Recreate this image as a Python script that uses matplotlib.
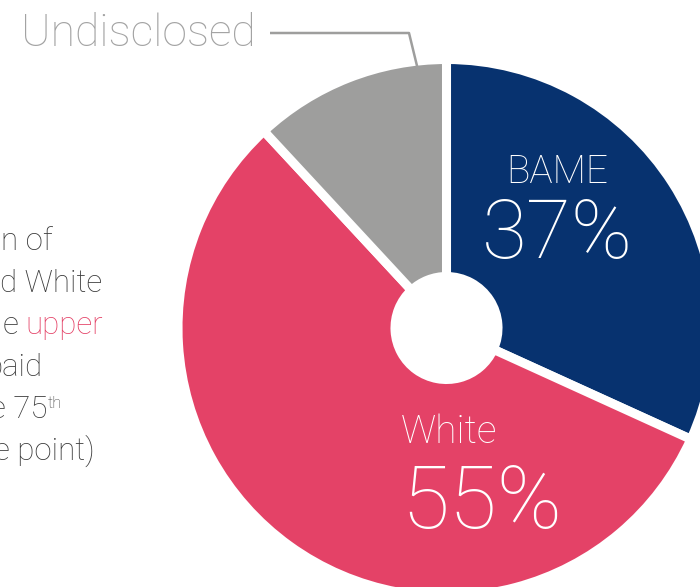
import matplotlib
matplotlib.use("Agg")
import matplotlib.pyplot as plt

W, H = 700, 587

groups = ["BAME", "White", "Undisclosed"]
shares = [31.8, 56.3, 11.9]          # as drawn
labels = ["37%", "55%", None]        # as printed
colors = ["#07326F", "#E44267", "#9E9E9D"]

side_lines = ["n of", "d White", "e", "paid", "e 75", "e point)"]

plt.rcParams["font.family"] = ["Roboto", "DejaVu Sans"]
LW = "light"

fig = plt.figure(figsize=(W / 100, H / 100), dpi=100)
ax = fig.add_axes([0, 0, 1, 1])

cx, cy = 446.5, H - 328
ax.pie(shares, colors=colors, startangle=90, counterclock=False,
       center=(cx, cy), radius=268.5,
       wedgeprops=dict(width=217, edgecolor="white", linewidth=6.5))

ax.set_xlim(0, W)
ax.set_ylim(0, H)
ax.set_aspect("equal")
ax.axis("off")

# slice labels
ax.text(557, H - 183, groups[0], color="white", fontsize=28, fontweight=LW,
        ha="center", va="baseline")
ax.text(557, H - 258, labels[0], color="white", fontsize=59, fontweight=LW,
        ha="center", va="baseline")
ax.text(401, H - 443, groups[1], color="white", fontsize=28, fontweight=LW,
        ha="left", va="baseline")
ax.text(401, H - 528, labels[1], color="white", fontsize=63, fontweight=LW,
        ha="left", va="baseline")

# undisclosed callout
ax.text(21, H - 46, groups[2], color="#A3A3A3", fontsize=32, fontweight=LW,
        ha="left", va="baseline")
ax.plot([270, 409, 418], [H - 33, H - 33, H - 70], color="#9E9E9D", lw=1.8,
        solid_capstyle="butt")

# clipped side note
dark = "#3A3A3A"
fs = 22.5
base = [250, 292, 334, 376, 418, 460]
ends = [53, 102, None, 43, 47, 95]
for txt, y, x in zip(side_lines, base, ends):
    if x is None:
        continue
    ax.text(x, H - y, txt, color=dark, fontsize=fs, fontweight=LW,
            ha="right", va="baseline")

up = ax.text(103, H - 334, "upper", color="#E44267", fontsize=fs, fontweight=LW,
             ha="right", va="baseline")
r = fig.canvas.get_renderer()
up_left = up.get_window_extent(r).x0
ax.text(up_left - 7, H - 334, side_lines[2], color=dark, fontsize=fs,
        fontweight=LW, ha="right", va="baseline")
ax.text(48, H - 396, "th", color=dark, fontsize=12, fontweight=LW,
        ha="left", va="top")

fig.savefig("out.png", dpi=100)
